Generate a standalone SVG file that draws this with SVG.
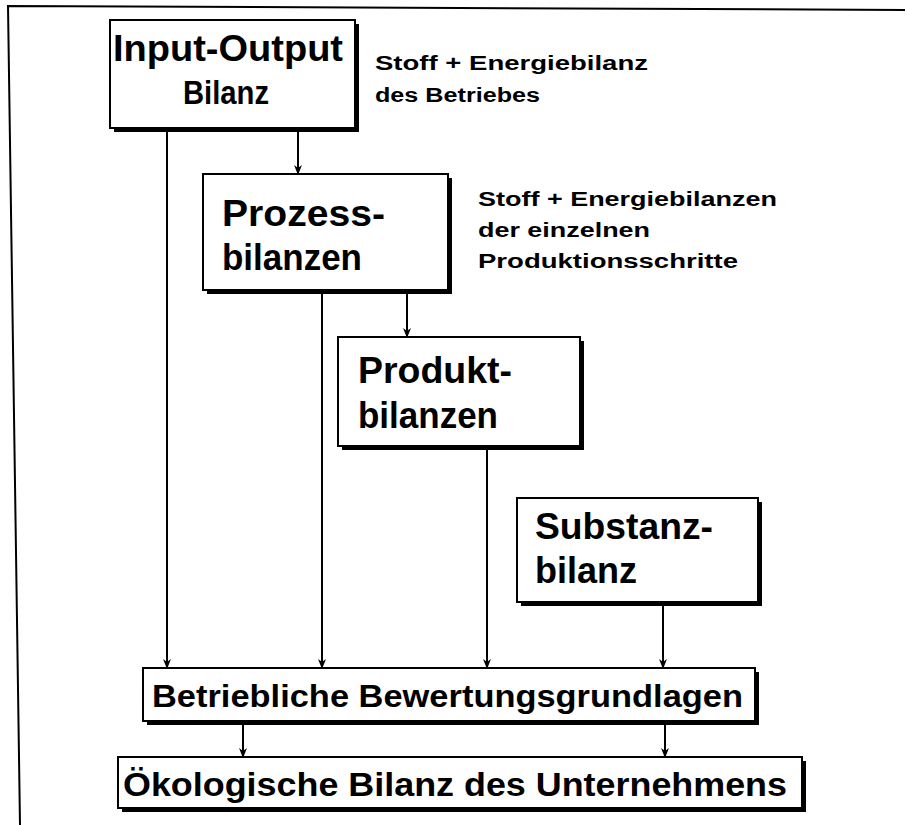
<svg xmlns="http://www.w3.org/2000/svg" width="907" height="825" viewBox="0 0 907 825">
<defs>
<style>
.box{fill:#fff;stroke:#000;stroke-width:2}
.sh{fill:#000}
.t{font-family:"Liberation Sans",Arial,sans-serif;font-weight:bold;fill:#000}
.n{font-size:36px}
.a{font-size:20px}
.c{stroke:#000;stroke-width:2;fill:none}
</style>
<marker id="ah" markerUnits="userSpaceOnUse" markerWidth="10" markerHeight="10" refX="9" refY="5" orient="auto" viewBox="0 0 10 10">
<path d="M10,5 L0,1 L3,5 L0,9 Z" fill="#000"/>
</marker>
</defs>
<rect width="907" height="825" fill="#fff"/>
<polyline points="20,825 8,6 905,10" fill="none" stroke="#000" stroke-width="2"/>

<g id="connectors">
<line class="c" x1="167" y1="128" x2="167" y2="668" marker-end="url(#ah)"/>
<line class="c" x1="298" y1="128" x2="298" y2="174" marker-end="url(#ah)"/>
<line class="c" x1="322" y1="290" x2="322" y2="668" marker-end="url(#ah)"/>
<line class="c" x1="407" y1="290" x2="407" y2="337" marker-end="url(#ah)"/>
<line class="c" x1="487" y1="447" x2="487" y2="668" marker-end="url(#ah)"/>
<line class="c" x1="663" y1="603" x2="663" y2="668" marker-end="url(#ah)"/>
<line class="c" x1="243" y1="722" x2="243" y2="757" marker-end="url(#ah)"/>
<line class="c" x1="665" y1="721" x2="665" y2="757" marker-end="url(#ah)"/>
</g>

<g id="input-output">
<rect class="sh" x="114" y="24" width="245" height="108"/>
<rect class="box" x="110" y="20" width="245" height="108"/>
<text class="t n" x="113" y="61" textLength="230" lengthAdjust="spacingAndGlyphs">Input-Output</text>
<text class="t" x="183" y="104" style="font-size:34px" textLength="86" lengthAdjust="spacingAndGlyphs">Bilanz</text>
</g>

<g id="anno1">
<text class="t a" x="375" y="70" textLength="273" lengthAdjust="spacingAndGlyphs">Stoff + Energiebilanz</text>
<text class="t a" x="375" y="102" textLength="165" lengthAdjust="spacingAndGlyphs">des Betriebes</text>
</g>

<g id="prozess">
<rect class="sh" x="207" y="178" width="245" height="116"/>
<rect class="box" x="203" y="174" width="245" height="116"/>
<text class="t n" x="222" y="226" textLength="163" lengthAdjust="spacingAndGlyphs">Prozess-</text>
<text class="t n" x="222" y="270" textLength="140" lengthAdjust="spacingAndGlyphs">bilanzen</text>
</g>

<g id="anno2">
<text class="t a" x="478" y="206" textLength="299" lengthAdjust="spacingAndGlyphs">Stoff + Energiebilanzen</text>
<text class="t a" x="478" y="237" textLength="172" lengthAdjust="spacingAndGlyphs">der einzelnen</text>
<text class="t a" x="478" y="268" textLength="260" lengthAdjust="spacingAndGlyphs">Produktionsschritte</text>
</g>

<g id="produkt">
<rect class="sh" x="342" y="341" width="242" height="109"/>
<rect class="box" x="338" y="337" width="242" height="109"/>
<text class="t n" x="358" y="383" textLength="154" lengthAdjust="spacingAndGlyphs">Produkt-</text>
<text class="t n" x="358" y="428" textLength="140" lengthAdjust="spacingAndGlyphs">bilanzen</text>
</g>

<g id="substanz">
<rect class="sh" x="521" y="502" width="241" height="104"/>
<rect class="box" x="517" y="498" width="241" height="104"/>
<text class="t n" x="535" y="539" textLength="178" lengthAdjust="spacingAndGlyphs">Substanz-</text>
<text class="t n" x="535" y="583" textLength="102" lengthAdjust="spacingAndGlyphs">bilanz</text>
</g>

<g id="betrieblich">
<rect class="sh" x="147" y="672" width="612" height="53"/>
<rect class="box" x="143" y="668" width="612" height="53"/>
<text class="t" x="152" y="707" style="font-size:32px" textLength="591" lengthAdjust="spacingAndGlyphs">Betriebliche Bewertungsgrundlagen</text>
</g>

<g id="oekologisch">
<rect class="sh" x="122" y="761" width="684" height="51"/>
<rect class="box" x="118" y="757" width="684" height="51"/>
<text class="t" x="123" y="796" style="font-size:34px" textLength="664" lengthAdjust="spacingAndGlyphs">Ökologische Bilanz des Unternehmens</text>
</g>
</svg>
